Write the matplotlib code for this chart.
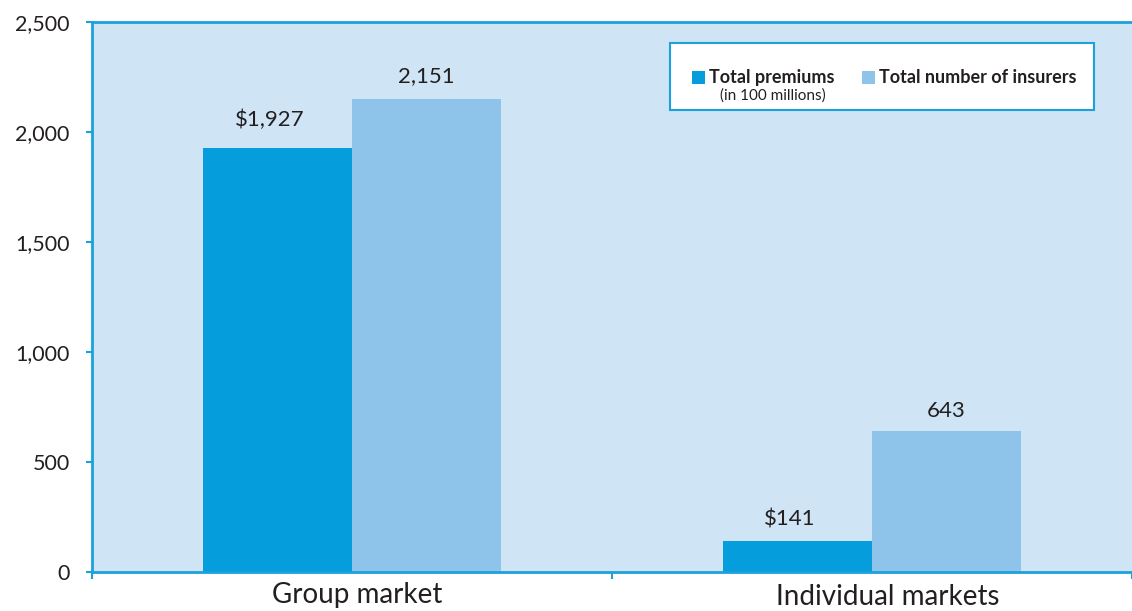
import matplotlib
matplotlib.use("Agg")
import matplotlib.pyplot as plt
import numpy as np
from matplotlib.patches import Rectangle

categories = ['Group market', 'Individual markets']
premiums = [1927, 141]
insurers = [2151, 643]
premium_labels = ['$1,927', '$141']
insurer_labels = ['2,151', '643']
yticks = [0, 500, 1000, 1500, 2000, 2500]
ytick_labels = ['0', '500', '1,000', '1,500', '2,000', '2,500']

dark = '#069DDC'
light = '#8EC4EA'
bg = '#CFE4F4'
spine = '#1BA1DB'
ink = '#231f20'

plt.rcParams['font.family'] = ['Lato', 'DejaVu Sans']

fig = plt.figure(figsize=(11.32, 6.11), dpi=100)
ax = fig.add_axes([92/1132, 39/611, 1 - 92/1132, 550/611])
ax.set_facecolor(bg)

x = np.arange(len(categories))
width = 0.287
ax.bar(x - width/2, premiums, width, color=dark, zorder=2)
ax.bar(x + width/2, insurers, width, color=light, zorder=2)

# label offsets above the bars (points)
prem_off = [13, 8]
ins_off = [9, 7]
for i in range(len(categories)):
    ax.annotate(premium_labels[i], (x[i] - width/2 - 0.015, premiums[i]), xytext=(0, prem_off[i]),
                textcoords='offset points', ha='center', va='bottom', fontsize=16, color=ink)
    ax.annotate(insurer_labels[i], (x[i] + width/2, insurers[i]), xytext=(0, ins_off[i]),
                textcoords='offset points', ha='center', va='bottom', fontsize=16, color=ink)

ax.set_xlim(-0.5, 1.5)
ax.set_ylim(0, 2500)
ax.set_yticks(yticks)
ax.set_yticklabels(ytick_labels, fontsize=15.5, color=ink)
ax.set_xticks([-0.5, 0.5, 1.5])
ax.set_xticklabels([])
ax.tick_params(axis='y', length=4, width=1.5, color=spine, pad=12)
ax.tick_params(axis='x', length=5, width=1.5, color=spine, direction='out')

# category labels sit at slightly different heights in the original
ax.text(x[0] + 0.01, -0.056, categories[0], transform=ax.get_xaxis_transform(),
        ha='center', va='baseline', fontsize=20, color=ink)
ax.text(x[1] + 0.03, -0.060, categories[1], transform=ax.get_xaxis_transform(),
        ha='center', va='baseline', fontsize=20, color=ink)

for s in ['left', 'bottom', 'top']:
    ax.spines[s].set_color(spine)
    ax.spines[s].set_linewidth(2)
ax.spines['right'].set_visible(False)

# legend box
ax.add_patch(Rectangle((0.556, 0.84), 0.407, 0.122, transform=ax.transAxes,
                       facecolor='white', edgecolor=spine, linewidth=1.5, zorder=3))
ax.add_patch(Rectangle((0.577, 0.888), 0.0125, 0.022, transform=ax.transAxes,
                       facecolor=dark, edgecolor='none', zorder=4))
ax.add_patch(Rectangle((0.740, 0.888), 0.0125, 0.022, transform=ax.transAxes,
                       facecolor=light, edgecolor='none', zorder=4))
ax.text(0.593, 0.899, 'Total premiums', transform=ax.transAxes, ha='left', va='center',
        fontsize=13, fontweight='bold', color=ink, zorder=5)
ax.text(0.6035, 0.867, '(in 100 millions)', transform=ax.transAxes, ha='left', va='center',
        fontsize=11, color=ink, zorder=5)
ax.text(0.7565, 0.899, 'Total number of insurers', transform=ax.transAxes, ha='left', va='center',
        fontsize=13, fontweight='bold', color=ink, zorder=5)

fig.savefig('out.png', dpi=100)
